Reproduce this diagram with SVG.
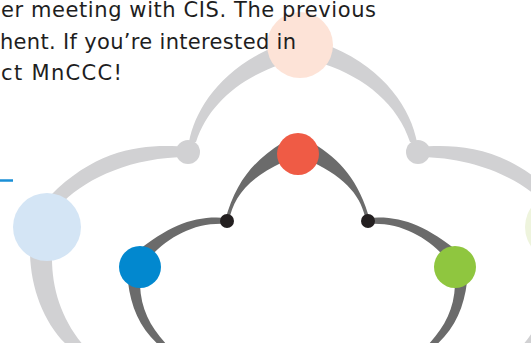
<svg xmlns="http://www.w3.org/2000/svg" xmlns:xlink="http://www.w3.org/1999/xlink" width="531" height="343" viewBox="0 0 531 343">
<style>
.txt{font-family:"DejaVu Sans","Liberation Sans",sans-serif;font-size:21px;fill:#1e1e1e}
.lg{fill:#d1d1d3}
.dg{fill:#6b6b6b}
</style>
<defs>
<path id="bandA" d="M189,142 C195,110 220,70 274,47 L282,64 C240,78 208,105 196,142 Z"/>
<path id="bandC" d="M188,147 C150,144 100,145 50,196 L64,201 C88,178 132,157 188,157 Z"/>
<path id="bandD" d="M30,254 C31,290 45,325 68,346 L84,346 C62,320 52,290 52,258 Z"/>
<path id="bandF" d="M282,143 C255,160 236,180 225,221 L229,221 C233,198 248,178 283,162 Z"/>
<path id="bandG" d="M227,218 C195,215 170,225 136,252 L150,257 C170,236 195,222 227,224 Z"/>
<path id="bandH" d="M128,282 C131,308 141,330 160,346 L168,346 C151,328 141,310 140,285 Z"/>
</defs>
<g id="connectors">
<use xlink:href="#bandA" class="lg"/>
<use xlink:href="#bandA" class="lg" transform="translate(606,0) scale(-1,1)"/>
<use xlink:href="#bandC" class="lg"/>
<use xlink:href="#bandC" class="lg" transform="translate(606,0) scale(-1,1)"/>
<use xlink:href="#bandD" class="lg"/>
<use xlink:href="#bandD" class="lg" transform="translate(606,0) scale(-1,1)"/>
<use xlink:href="#bandF" class="dg"/>
<use xlink:href="#bandF" class="dg" transform="translate(595,0) scale(-1,1)"/>
<use xlink:href="#bandG" class="dg"/>
<use xlink:href="#bandG" class="dg" transform="translate(595,0) scale(-1,1)"/>
<use xlink:href="#bandH" class="dg"/>
<use xlink:href="#bandH" class="dg" transform="translate(595,0) scale(-1,1)"/>
<line x1="0" y1="180.5" x2="13" y2="180.5" stroke="#1a8fd6" stroke-width="2.5"/>
</g>
<g id="node-peach"><circle cx="300" cy="45" r="33" fill="#fde3d7"/></g>
<g id="node-gray-left"><circle cx="188" cy="152" r="12" fill="#d1d1d3"/></g>
<g id="node-gray-right"><circle cx="418" cy="152" r="12" fill="#d1d1d3"/></g>
<g id="node-lightblue"><circle cx="47" cy="227" r="34" fill="#d4e5f5"/></g>
<g id="node-lightgreen"><circle cx="559" cy="227" r="34" fill="#eef4dd"/></g>
<g id="node-red"><circle cx="298" cy="154" r="21" fill="#ef5b45"/></g>
<g id="node-black-left"><circle cx="227" cy="221" r="7" fill="#231f20"/></g>
<g id="node-black-right"><circle cx="368" cy="221" r="7" fill="#231f20"/></g>
<g id="node-blue"><circle cx="140" cy="267" r="21" fill="#0288cf"/></g>
<g id="node-green"><circle cx="455" cy="267" r="21" fill="#8fc63f"/></g>
<g id="text">
<text class="txt" x="1" y="17" textLength="375" lengthAdjust="spacing">er meeting with CIS. The previous</text>
<text class="txt" x="0" y="49" textLength="296" lengthAdjust="spacing">hent. If you’re interested in</text>
<text class="txt" x="1" y="80" textLength="121" lengthAdjust="spacing">ct MnCCC!</text>
</g>
</svg>
